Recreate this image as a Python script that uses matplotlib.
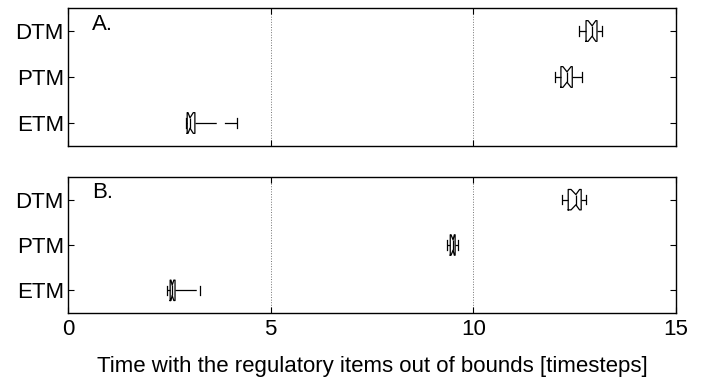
import matplotlib.pyplot as plt

plt.rcParams['font.family'] = ['Liberation Sans', 'DejaVu Sans']

# ── data ──
groups = ['ETM', 'PTM', 'DTM']

# panel A
a_whislo = [2.91, 12.02, 12.61]
a_q1     = [2.94, 12.16, 12.78]
a_med    = [3.01, 12.31, 12.93]
a_q3     = [3.13, 12.44, 13.05]
a_whishi = [4.17, 12.68, 13.18]
a_cilo   = [2.96, 12.21, 12.83]
a_cihi   = [3.09, 12.41, 13.02]

# panel B
b_whislo = [2.44, 9.35, 12.19]
b_q1     = [2.52, 9.43, 12.34]
b_med    = [2.57, 9.50, 12.53]
b_q3     = [2.64, 9.55, 12.66]
b_whishi = [3.26, 9.62, 12.78]
b_cilo   = [2.54, 9.45, 12.41]
b_cihi   = [2.61, 9.53, 12.62]

xticks = [0, 5, 10, 15]


def make_stats(whislo, q1, med, q3, whishi, cilo, cihi):
    out = []
    for i in range(len(med)):
        out.append(dict(whislo=whislo[i], q1=q1[i], med=med[i], q3=q3[i],
                        whishi=whishi[i], cilo=cilo[i], cihi=cihi[i],
                        fliers=[]))
    return out


fig = plt.figure(figsize=(7.07, 3.81), dpi=100)
ax_a = fig.add_axes([0.0962, 0.6168, 0.8600, 0.3622])
ax_b = fig.add_axes([0.0962, 0.1785, 0.8600, 0.3569])

panels = [
    (ax_a, make_stats(a_whislo, a_q1, a_med, a_q3, a_whishi, a_cilo, a_cihi), 'A.'),
    (ax_b, make_stats(b_whislo, b_q1, b_med, b_q3, b_whishi, b_cilo, b_cihi), 'B.'),
]

for ax, stats, tag in panels:
    ax.bxp(stats, positions=[1, 2, 3], orientation='horizontal', widths=0.45,
           capwidths=0.2, shownotches=True, showfliers=False,
           boxprops=dict(color='black', linewidth=0.9),
           medianprops=dict(color='black', linewidth=0.9),
           whiskerprops=dict(color='black', linewidth=0.9, linestyle=(0, (17, 6.5))),
           capprops=dict(color='black', linewidth=0.9))
    ax.set_xlim(0, 15)
    ax.set_ylim(0.5, 3.5)
    ax.set_yticks([1, 2, 3])
    ax.set_yticklabels(groups, fontsize=16)
    ax.set_xticks(xticks)
    ax.xaxis.grid(True, linestyle=':', color='0.45', linewidth=0.7)
    ax.tick_params(direction='in', top=True, right=True, length=4, width=0.8)
    ax.tick_params(axis='y', pad=3)
    for s in ax.spines.values():
        s.set_linewidth(1.0)
    ax.text(0.04, 0.96, tag, transform=ax.transAxes, ha='left', va='top',
            fontsize=16)

ax_a.set_xticklabels([])
ax_b.set_xticklabels([str(t) for t in xticks], fontsize=16)
ax_b.tick_params(axis='x', pad=4.5)
ax_b.set_xlabel('Time with the regulatory items out of bounds [timesteps]',
                fontsize=16, labelpad=11)

plt.savefig('out.png', dpi=100)
